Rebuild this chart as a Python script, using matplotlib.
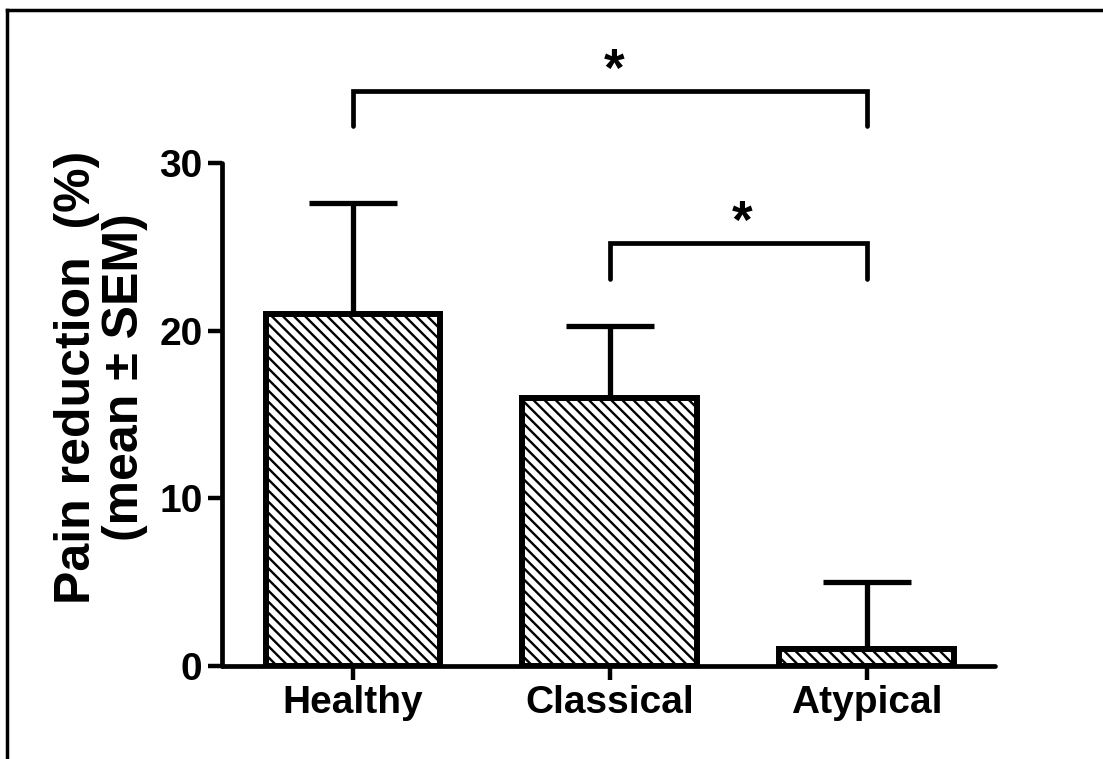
import matplotlib
matplotlib.use("Agg")
import matplotlib.pyplot as plt
from matplotlib.lines import Line2D

categories = ["Healthy", "Classical", "Atypical"]
means = [21.0, 16.0, 1.0]
sem_upper = [6.6, 4.3, 4.0]
yticks = [0, 10, 20, 30]
ylabel = "Pain reduction  (%)\n(mean \u00b1 SEM)"
brackets = [  # (x_left, x_right, y_bar, y_leg_bottom, label)
    (0, 2, 34.3, 32.2, "*"),
    (1, 2, 25.2, 23.1, "*"),
]

plt.rcParams['font.family'] = ['Liberation Sans', 'DejaVu Sans']
plt.rcParams['hatch.linewidth'] = 1.7

fig = plt.figure(figsize=(11.03, 7.59), dpi=100)
ax = fig.add_axes([222/1103, 1-666/759, (995-222)/1103, (666-163)/759])

x = list(range(len(categories)))
ax.bar(x, means, width=0.68, color='white', edgecolor='black', linewidth=4.3,
       hatch='\\\\\\', zorder=2)
ax.errorbar(x, means, yerr=[[0]*len(means), sem_upper], fmt='none', ecolor='black',
            elinewidth=3.8, capsize=32, capthick=3.8, zorder=1)

ax.set_xlim(-0.51, 2.50)
ax.set_ylim(0, 30)
ax.set_yticks(yticks)
ax.set_xticks(x)
ax.set_xticklabels(categories, fontsize=28, fontweight='bold')
ax.set_yticklabels([str(t) for t in yticks], fontsize=28, fontweight='bold')
ax.tick_params(axis='both', width=3.2, length=10, pad=4)
for s in ['top', 'right']:
    ax.spines[s].set_visible(False)
for s in ['left', 'bottom']:
    ax.spines[s].set_linewidth(3.4)
    ax.spines[s].set_capstyle('round')

for xl, xr, yb, yl, lab in brackets:
    ax.plot([xl, xl, xr, xr], [yl, yb, yb, yl], color='black', lw=3.4,
            clip_on=False, solid_joinstyle='miter', solid_capstyle='round')
    ax.text((xl + xr) / 2 + 0.015, yb + 0.3, lab, ha='center', va='baseline', fontsize=38,
            fontweight='bold', clip_on=False)

fig.text(101/1103, 1-377/759, ylabel, rotation=90, ha='center', va='center',
         fontsize=36, fontweight='bold', multialignment='center', linespacing=1.08)

# figure frame (left and top)
fig.add_artist(Line2D([7/1103, 7/1103], [0, 1-10/759], transform=fig.transFigure,
                      color='black', lw=2.5))
fig.add_artist(Line2D([7/1103, 1], [1-10/759, 1-10/759], transform=fig.transFigure,
                      color='black', lw=2.5))

fig.savefig("out.png", dpi=100)
